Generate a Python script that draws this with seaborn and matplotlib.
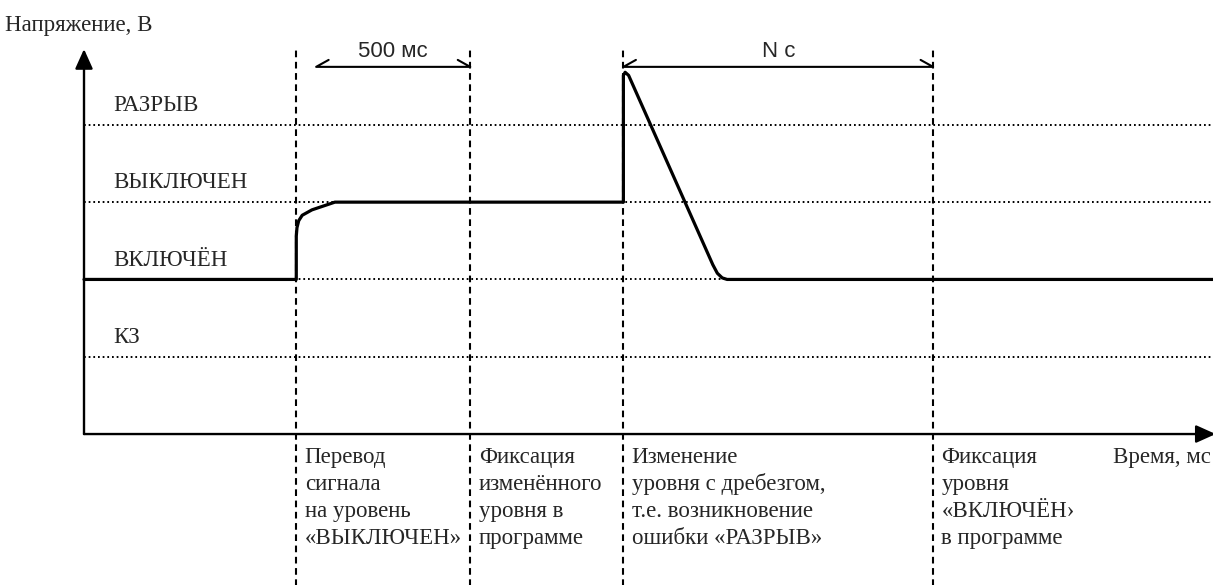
import numpy as np
import pandas as pd
import seaborn as sns
import matplotlib.pyplot as plt

# voltage levels (bottom to top)
levels = [1, 2, 3, 4]
level_names = ["КЗ", "ВКЛЮЧЁН", "ВЫКЛЮЧЕН", "РАЗРЫВ"]

# event times, ms (switch off, fix in program, bounce, fix "on")
event_t = [610, 1110, 1550, 2440]
event_notes = [
    ["Перевод", "сигнала", "на уровень", "«ВЫКЛЮЧЕН»"],
    ["Фиксация", "изменённого", "уровня в", "программе"],
    ["Изменение", "уровня с дребезгом,", "т.е. возникновение", "ошибки «РАЗРЫВ»"],
    ["Фиксация", "уровня", "«ВКЛЮЧЁН›", "в программе"],
]

# signal trace
sig_t = [0, 610, 610, 612, 617, 627, 655, 721, 1550, 1550, 1555, 1565,
         1807, 1820, 1834, 1848, 3300]
sig_v = [2, 2, 2.56, 2.67, 2.76, 2.83, 2.90, 3.0, 3.0, 4.64, 4.68, 4.64,
         2.19, 2.08, 2.02, 2.0, 2.0]

# dimension arrows
span_labels = ["500 мс", "N с"]
span_start = [667, 1550]
span_end = [1110, 2440]

sns.set_theme(style="white")
plt.rcParams["font.family"] = ["Liberation Serif", "DejaVu Serif"]

fig = plt.figure(figsize=(12.13, 5.85), dpi=100)
ax = fig.add_axes([0, 0, 1, 1])
ax.set_xlim(-241.4, 3244.3)
ax.set_ylim(-1.953, 5.615)
ax.axis("off")

# dotted level lines + labels
for lv, name in zip(levels, level_names):
    ax.plot([0, 3300], [lv, lv], color="black", lw=1.4, dashes=(0.9, 1.5))
    ax.text(83, lv + 0.18, name, fontsize=16.5, ha="left", va="baseline")

# dashed event lines + notes
ax.vlines(event_t, -2.1, 4.99, color="black", lw=1.5, linestyles=(0, (3.2, 2.2)))
for t, note in zip(event_t, event_notes):
    for i, line in enumerate(note):
        ax.text(t + 24, -0.37 - i * 0.35, line, fontsize=16.5,
                ha="left", va="baseline")

# axes with arrows
arrow = dict(arrowstyle="-|>,head_length=1.0,head_width=0.45", lw=1.7,
             color="black", mutation_scale=12, shrinkA=0, shrinkB=0)
ax.annotate("", xy=(0, 4.98), xytext=(0, 0), arrowprops=arrow,
            annotation_clip=False)
ax.annotate("", xy=(3252, 0), xytext=(0, 0), arrowprops=arrow,
            annotation_clip=False)
ax.text(-227, 5.29, "Напряжение, В", fontsize=16.5, ha="left", va="center")
ax.text(2957, -0.375, "Время, мс", fontsize=16.5, ha="left", va="baseline")

# signal
sns.lineplot(x=sig_t, y=sig_v, sort=False, estimator=None, color="black",
             lw=2.3, ax=ax)

# dimension harpoons
dx, dy, v = 36, 0.09, 4.75
for lab, t0, t1 in zip(span_labels, span_start, span_end):
    ax.plot([t0 + dx, t0, t1, t1 - dx], [v + dy, v, v, v + dy],
            color="black", lw=1.5)
    ax.text((t0 + t1) / 2, 4.88, lab, fontsize=16, ha="center",
            va="baseline", family=["Liberation Sans", "DejaVu Sans"])

fig.savefig("out.png", dpi=100)
